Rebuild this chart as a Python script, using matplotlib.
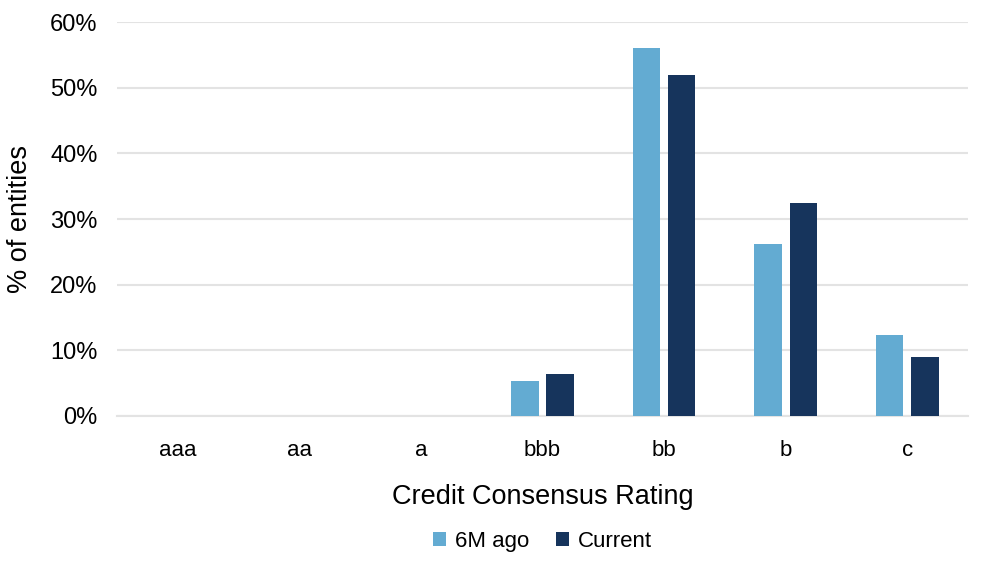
import numpy as np
import matplotlib
matplotlib.use("Agg")
import matplotlib.pyplot as plt
from matplotlib.ticker import PercentFormatter

plt.rcParams.update({
    "font.family": ["Liberation Sans", "DejaVu Sans"],
    "font.size": 16,
})

# ==============================
# Data
# ==============================

ratings = ["aaa", "aa", "a", "bbb", "bb", "b", "c"]
six_m_ago = [0, 0, 0, 5.4, 56.0, 26.2, 12.4]
current = [0, 0, 0, 6.4, 52.0, 32.5, 9.0]

COLOR_OLD = "#63ABD2"
COLOR_NEW = "#16345C"
GRID = "#E3E3E3"

# ==============================
# Plot
# ==============================

fig = plt.figure(figsize=(9.88, 5.64), dpi=100)
ax = fig.add_axes([117 / 988, (564 - 416) / 564, 851 / 988, 394 / 564])

x = np.arange(len(ratings))
w = 0.225
off = 0.145

ax.bar(x - off, six_m_ago, width=w, color=COLOR_OLD, label="6M ago", zorder=3)
ax.bar(x + off, current, width=w, color=COLOR_NEW, label="Current", zorder=3)

ax.set_xlim(-0.5, len(ratings) - 0.5)
ax.set_ylim(0, 60)
ax.set_yticks(np.arange(0, 61, 10))
ax.yaxis.set_major_formatter(PercentFormatter(decimals=0))
ax.set_xticks(x)
ax.set_xticklabels(ratings)

ax.grid(axis="y", color=GRID, linewidth=1.5, zorder=0)
for s in ["top", "right", "left"]:
    ax.spines[s].set_visible(False)
ax.spines["bottom"].set_color(GRID)
ax.spines["bottom"].set_linewidth(1.5)
ax.tick_params(axis="both", length=0, colors="black")
ax.tick_params(axis="x", pad=17, labelsize=16)
ax.tick_params(axis="y", pad=14, labelsize=17)

ax.set_xlabel("Credit Consensus Rating", fontsize=19.5, labelpad=17)
ax.set_ylabel("% of entities", fontsize=19.5, labelpad=12)

ax.legend(loc="upper center", bbox_to_anchor=(0.5, -0.24), ncol=2, frameon=False,
          fontsize=16, handlelength=0.6, handleheight=0.6, handletextpad=0.4,
          columnspacing=1.2)

fig.savefig("out.png", dpi=100)
